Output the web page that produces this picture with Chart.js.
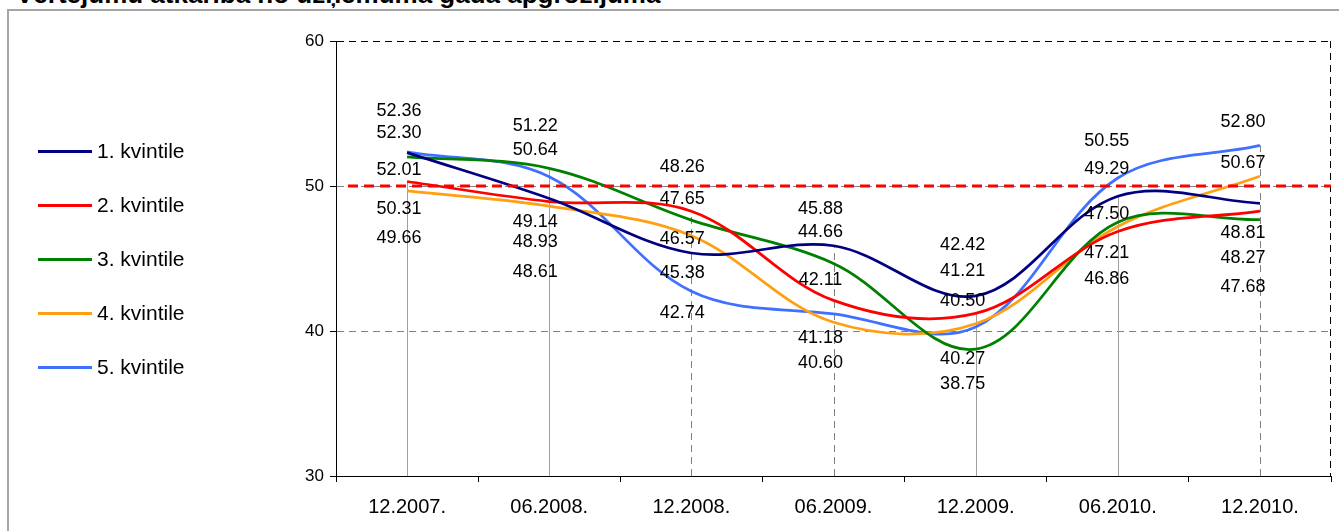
<!DOCTYPE html>
<html>
<head>
<meta charset="utf-8">
<script src="https://cdn.jsdelivr.net/npm/chart.js@4/dist/chart.umd.min.js"></script>
<style>
    html, body { margin: 0; padding: 0; background: #fff; overflow: hidden; }
    body { width: 1339px; height: 531px; position: relative; font-family: 'Liberation Sans', Arial, sans-serif; }
    #frame { position: absolute; left: 7px; top: 9px; width: 1400px; height: 600px; border: 2px solid #a6a6a6; }
    #title { position: absolute; left: 16px; top: -19px; font-size: 26px; line-height: 26px; font-weight: bold; color: #000; white-space: nowrap; }
    #wrap { position: absolute; left: 0; top: 0; width: 1339px; height: 531px; }
</style>
</head>
<body>
<div id="frame"></div>
<div id="title">Vērtējumu atkarība no uzņēmuma gada apgrozījuma</div>
<div id="wrap"><canvas id="quintileChart"></canvas></div>
<script>
// Periods and values per quintile
const CATEGORIES = ['12.2007.', '06.2008.', '12.2008.', '06.2009.', '12.2009.', '06.2010.', '12.2010.'];
const SERIES_NAMES = ['1. kvintile', '2. kvintile', '3. kvintile', '4. kvintile', '5. kvintile'];
const Q1 = [52.30, 49.14, 45.38, 45.88, 42.42, 49.29, 48.81];
const Q2 = [50.31, 48.93, 48.26, 42.11, 41.21, 46.86, 48.27];
const Q3 = [52.01, 51.22, 47.65, 44.66, 38.75, 47.50, 47.68];
const Q4 = [49.66, 48.61, 46.57, 40.60, 40.50, 47.21, 50.67];
const Q5 = [52.36, 50.64, 42.74, 41.18, 40.27, 50.55, 52.80];
const Y_TICKS = [30, 40, 50, 60];
const THRESHOLD = 50;

const COLORS = ['#000080', '#ff0000', '#008000', '#ffa012', '#4070ff'];
const FONT = "'Liberation Sans', Arial, sans-serif";

// label placement: vertical shift per series/period, horizontal shift per period
const LABEL_DY = [
    [-20, 24, 20, -37, -51, -27, 30],
    [28, 41, -44, -20, -42, 48, 47],
    [13, -42, -21, -31, 35, -8, 67],
    [47, 66, 3, 41, -23, 27, -13],
    [-41, -27, 22, 24, 32, -37, -23]
];
const LABEL_DX = [-8, -14, -9, -13, -13, -11, -17];

// vertical drop lines: which series they reach up to, and whether dashed
const DROP_SERIES = [1, 2, 1, 0, 1, 0, 4];
const DROP_DASHED = [false, false, true, true, false, false, true];

const seriesValues = [Q1, Q2, Q3, Q4, Q5];

const dropLines = {
    id: 'dropLines',
    beforeDatasetsDraw(chart) {
        const { ctx, chartArea, scales: { x, y } } = chart;
        ctx.save();
        ctx.lineWidth = 1;
        CATEGORIES.forEach((c, i) => {
            const px = Math.round(x.getPixelForValue(i)) + 0.5;
            const top = y.getPixelForValue(seriesValues[DROP_SERIES[i]][i]);
            ctx.strokeStyle = DROP_DASHED[i] ? '#808080' : '#a0a0a0';
            ctx.setLineDash(DROP_DASHED[i] ? [7, 5] : []);
            ctx.beginPath();
            ctx.moveTo(px, chartArea.bottom);
            ctx.lineTo(px, top);
            ctx.stroke();
        });
        // right border of the plot area
        ctx.strokeStyle = '#000';
        ctx.setLineDash([7, 5]);
        ctx.beginPath();
        ctx.moveTo(chartArea.right - 0.5, chartArea.top);
        ctx.lineTo(chartArea.right - 0.5, chartArea.bottom);
        ctx.stroke();
        ctx.restore();
    }
};

const overlay = {
    id: 'overlay',
    afterDatasetsDraw(chart) {
        const { ctx, chartArea, scales: { x, y } } = chart;
        ctx.save();
        // 50 reference line
        const ty = Math.round(y.getPixelForValue(THRESHOLD));
        ctx.strokeStyle = '#ff0000';
        ctx.lineWidth = 3;
        ctx.setLineDash([10, 6]);
        ctx.beginPath();
        ctx.moveTo(chartArea.left + 12, ty);
        ctx.lineTo(chartArea.right, ty);
        ctx.stroke();
        ctx.setLineDash([]);

        // value labels
        ctx.fillStyle = '#000';
        ctx.font = '18px ' + FONT;
        ctx.textAlign = 'center';
        ctx.textBaseline = 'middle';
        chart.data.datasets.forEach((ds, s) => {
            ds.data.forEach((v, i) => {
                const px = x.getPixelForValue(i) + LABEL_DX[i];
                const py = y.getPixelForValue(v) + LABEL_DY[s][i];
                ctx.fillText(v.toFixed(2), px, py);
            });
        });
        ctx.restore();
    },
    afterDraw(chart) {
        // legend on the left
        const { ctx, chartArea } = chart;
        const mid = (chartArea.top + chartArea.bottom) / 2;
        const step = 54;
        ctx.save();
        ctx.font = '21px ' + FONT;
        ctx.textBaseline = 'middle';
        ctx.textAlign = 'left';
        chart.data.datasets.forEach((ds, i) => {
            const ly = Math.round(mid + (i - 2) * step) + 0.5;
            ctx.strokeStyle = ds.borderColor;
            ctx.lineWidth = 3;
            ctx.beginPath();
            ctx.moveTo(38, ly);
            ctx.lineTo(92, ly);
            ctx.stroke();
            ctx.fillStyle = '#000';
            ctx.fillText(ds.label, 97, ly + 1);
        });
        ctx.restore();
    }
};

new Chart(document.getElementById('quintileChart'), {
    type: 'line',
    data: {
        labels: CATEGORIES,
        datasets: seriesValues.map((vals, i) => ({
            label: SERIES_NAMES[i],
            data: vals,
            borderColor: COLORS[i],
            backgroundColor: COLORS[i],
            borderWidth: 2.75,
            tension: 0.35,
            pointRadius: 0,
            fill: false
        }))
    },
    options: {
        responsive: true,
        maintainAspectRatio: false,
        animation: false,
        layout: { padding: { left: 0, top: 41, right: 8, bottom: 0 } },
        plugins: {
            legend: { display: false },
            title: { display: false },
            tooltip: { enabled: false }
        },
        scales: {
            x: {
                offset: true,
                grid: { drawOnChartArea: false, drawTicks: true, tickLength: 6, color: '#000', offset: true },
                border: { color: '#000', width: 1 },
                ticks: { color: '#000', font: { family: FONT, size: 20 }, padding: 13, maxRotation: 0 },
                afterFit(scale) { scale.height = 55; }
            },
            y: {
                min: 30,
                max: 60,
                afterBuildTicks(scale) { scale.ticks = Y_TICKS.map(v => ({ value: v })); },
                grid: {
                    color: c => (c.tick && c.tick.value === 60) ? '#000' : (c.tick && c.tick.value === 30 ? 'rgba(0,0,0,0)' : '#808080'),
                    tickColor: '#000',
                    tickLength: 6,
                    lineWidth: 1
                },
                border: { color: '#000', width: 1, dash: [7, 5] },
                ticks: { color: '#000', font: { family: FONT, size: 17 }, padding: 6 },
                afterFit(scale) { scale.width = 336; }
            }
        }
    },
    plugins: [dropLines, overlay]
});
</script>
</body>
</html>
